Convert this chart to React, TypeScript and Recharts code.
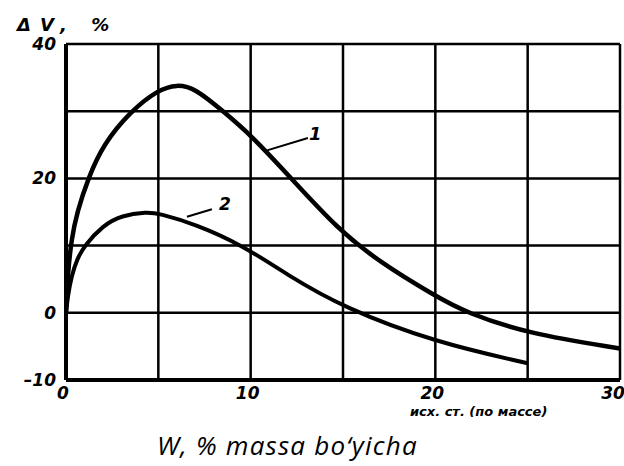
import { CartesianGrid, Line, LineChart, ReferenceLine, ReferenceDot, XAxis, YAxis, Label } from "recharts";

// moisture W, % and volume change ΔV, %
const w1 = [0, 0.1, 0.3, 0.6, 1.2, 2, 3.5, 5, 6, 7, 8.5, 10, 12.2, 14.7, 17, 20, 21.7, 25, 30];
const dv1 = [0, 6, 11, 15, 20, 25, 30, 33.2, 34, 33.4, 30, 26.5, 20, 12.5, 7.5, 2.5, 0, -3.1, -5.3];
const w2 = [0, 0.1, 0.3, 0.6, 1, 2, 3, 4.4, 5, 7, 9.6, 12, 15, 20, 25];
const dv2 = [0, 2.5, 5.5, 8, 10, 13, 14.5, 15, 14.8, 13.2, 10, 5.6, 0.8, -4.4, -7.5];
const xTicks = [0, 5, 10, 15, 20, 25, 30];
const yTicks = [-10, 0, 10, 20, 30, 40];
const xLabels = [0, 10, 20, 30];
const yLabels = [-10, 0, 20, 40];

const curve1 = w1.map((w, i) => ({ w, dv: dv1[i] }));
const curve2 = w2.map((w, i) => ({ w, dv: dv2[i] }));

const tickFont = {
  fontFamily: "DejaVu Sans",
  fontStyle: "italic",
  fontWeight: 700,
  fontSize: 17,
  fill: "#000",
};

function XTick({ x, y, payload }: any) {
  if (!xLabels.includes(payload.value)) return null;
  return (
    <text x={x - 3} y={y + 11} textAnchor="middle" {...tickFont}>
      {payload.value}
    </text>
  );
}

function YTick({ x, y, payload }: any) {
  if (!yLabels.includes(payload.value)) return null;
  return (
    <text x={x - 2} y={y + 6} textAnchor="end" {...tickFont}>
      {payload.value === -10 ? "–10" : payload.value}
    </text>
  );
}

export default function App() {
  return (
    <div style={{ position: "absolute", left: 0, top: 0, width: 624, height: 466, background: "#fff" }}>
      <LineChart width={624} height={466} margin={{ top: 44, right: 4, left: 16, bottom: 56 }}>
        <CartesianGrid stroke="#000" strokeWidth={2.5} horizontalValues={yTicks} verticalValues={xTicks} />
        <XAxis
          type="number"
          dataKey="w"
          domain={[0, 30]}
          ticks={xTicks}
          tickLine={false}
          axisLine={{ stroke: "#000", strokeWidth: 4 }}
          tick={<XTick />}
          height={30}
          allowDataOverflow
        />
        <YAxis
          type="number"
          domain={[-10, 40]}
          ticks={yTicks}
          tickLine={false}
          axisLine={{ stroke: "#000", strokeWidth: 4 }}
          tick={<YTick />}
          width={50}
        />
        <Line data={curve1} dataKey="dv" type="basis" stroke="#000" strokeWidth={4.5} dot={false} isAnimationActive={false} />
        <Line data={curve2} dataKey="dv" type="basis" stroke="#000" strokeWidth={4} dot={false} isAnimationActive={false} />
        <ReferenceLine segment={[{ x: 10.8, y: 24.1 }, { x: 13.1, y: 26 }]} stroke="#000" strokeWidth={2} />
        <ReferenceLine segment={[{ x: 6.55, y: 14.3 }, { x: 7.9, y: 15.4 }]} stroke="#000" strokeWidth={2} />
        <ReferenceDot x={13.5} y={26.6} r={0} fill="none" stroke="none">
          <Label value="1" position="center" {...tickFont} fontSize={18} />
        </ReferenceDot>
        <ReferenceDot x={8.6} y={16.2} r={0} fill="none" stroke="none">
          <Label value="2" position="center" {...tickFont} fontSize={17} />
        </ReferenceDot>
      </LineChart>
      <div
        style={{
          position: "absolute",
          left: 17,
          top: 14,
          fontFamily: "DejaVu Sans",
          fontStyle: "italic",
          fontWeight: 700,
          fontSize: 18,
          letterSpacing: 9,
          whiteSpace: "nowrap",
        }}
      >
        ΔV, %
      </div>
      <div
        style={{
          position: "absolute",
          left: 410,
          top: 404,
          fontFamily: "DejaVu Sans",
          fontStyle: "italic",
          fontWeight: 700,
          fontSize: 13,
          lineHeight: "16px",
          whiteSpace: "nowrap",
        }}
      >
        исх. ст. (по массе)
      </div>
      <div
        style={{
          position: "absolute",
          left: 157,
          top: 430,
          fontFamily: "Open Sans",
          fontStyle: "italic",
          fontSize: 26,
          letterSpacing: 1.2,
          lineHeight: "30px",
          whiteSpace: "nowrap",
        }}
      >
        W, % massa bo‘yicha
      </div>
    </div>
  );
}
